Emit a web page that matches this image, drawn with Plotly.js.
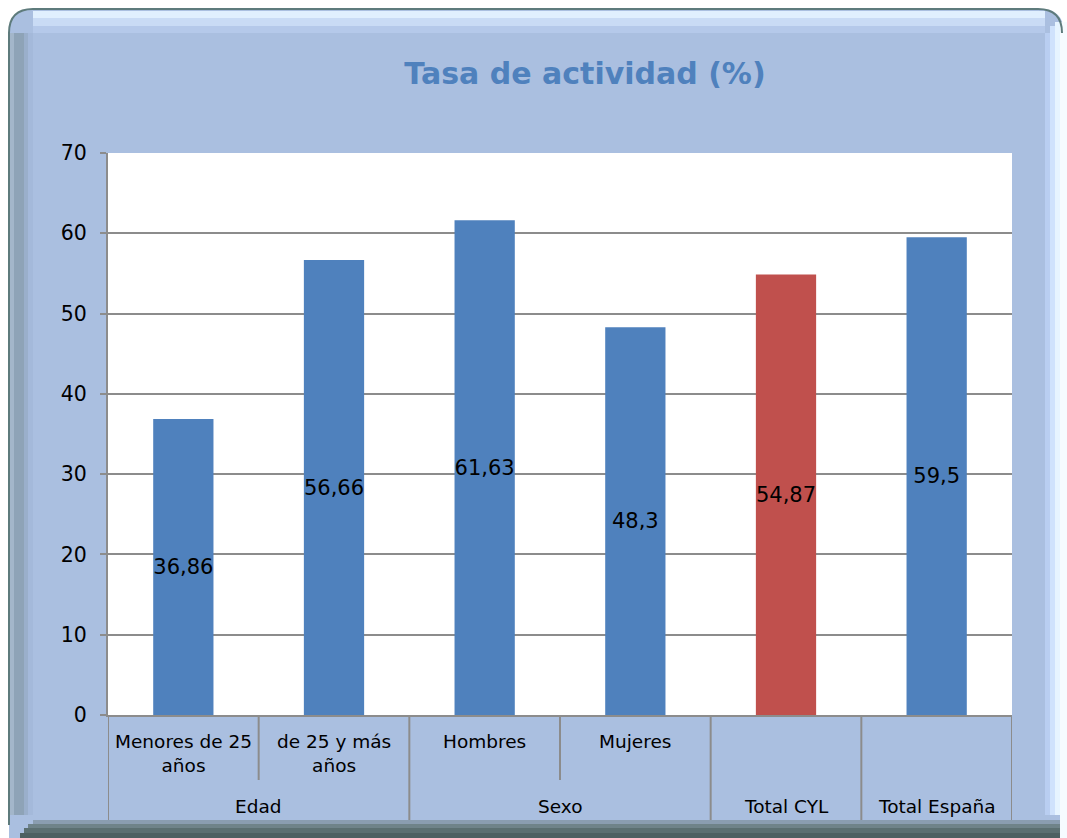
<!DOCTYPE html>
<html>
<head>
<meta charset="utf-8">
<script src="https://cdn.plot.ly/plotly-3.0.1.min.js"></script>
<style>html,body{margin:0;padding:0;background:#fff;}#chart{width:1067px;height:838px;}</style>
</head>
<body>
<div id="chart"></div>
<script>
// ---- data ----
const categories = ["Menores de 25 años", "de 25 y más años", "Hombres", "Mujeres", "Total CYL", "Total España"];
const subLabels = ["Menores de 25<br>años", "de 25 y más<br>años", "Hombres", "Mujeres", "", ""];
const groupLabels = ["Edad", "Sexo", "Total CYL", "Total España"];
const groupSizes = [2, 2, 1, 1];
const values = [36.86, 56.66, 61.63, 48.3, 54.87, 59.5];
const highlightCategory = "Total CYL";
const yTicks = [0, 10, 20, 30, 40, 50, 60, 70];

// ---- geometry helpers (layout only) ----
const W = 1067, H = 838, L = 108, R = 55, T = 153, B = 123;
const pw = W - L - R, ph = H - T - B;
const fx = px => (px - L) / pw;
const fy = py => (H - B - py) / ph;

const BLUE = "#4F81BD", RED = "#C0504D", GRID = "#8C8C8C";
const FONT = "DejaVu Sans";

const texts = values.map(v => String(v).replace(".", ","));
const colors = categories.map(c => c === highlightCategory ? RED : BLUE);

function roundRect(x0, y0, x1, y1, r) {
  const X0 = fx(x0), X1 = fx(x1), Y0 = fy(y0), Y1 = fy(y1);
  const rx = r / pw, ry = r / ph;
  return `M${X0 + rx},${Y0} L${X1 - rx},${Y0} Q${X1},${Y0} ${X1},${Y0 - ry} L${X1},${Y1 + ry} Q${X1},${Y1} ${X1 - rx},${Y1} L${X0 + rx},${Y1} Q${X0},${Y1} ${X0},${Y1 + ry} L${X0},${Y0 - ry} Q${X0},${Y0} ${X0 + rx},${Y0} Z`;
}
function topEdge(x0, y0, x1, r, drop) {
  const X0 = fx(x0), X1 = fx(x1), Y0 = fy(y0);
  const rx = r / pw, ry = r / ph;
  return `M${X0},${fy(drop)} L${X0},${Y0 - ry} Q${X0},${Y0} ${X0 + rx},${Y0} L${X1 - rx},${Y0} Q${X1},${Y0} ${X1},${Y0 - ry}`;
}
function pxRect(x0, y0, x1, y1, color) {
  return {type: "rect", xref: "paper", yref: "paper", layer: "below",
    x0: fx(x0), x1: fx(x1), y0: fy(y1), y1: fy(y0),
    fillcolor: color, line: {width: 0}};
}

const shapes = [
  {type: "path", xref: "paper", yref: "paper", layer: "below", path: roundRect(9, 9, 1064, 860, 24),
    fillcolor: "#AABFE0", line: {width: 0}},
  // left bevel
  pxRect(10, 33, 14, 815, "#A3B6CA"),
  pxRect(14, 33, 24, 815, "#8EA3B7"),
  pxRect(24, 33, 28, 815, "#9AAFCB"),
  pxRect(28, 33, 33, 815, "#A4B9DA"),
  // top bevel
  pxRect(33, 11, 1045, 18, "#E0EFFE"),
  pxRect(33, 18, 1045, 26, "#C9DBF5"),
  pxRect(33, 26, 1045, 33, "#B5C9EA"),
  // right bevel
  pxRect(1045, 33, 1050, 815, "#B9CEF1"),
  pxRect(1050, 26, 1055, 815, "#CFE2FC"),
  pxRect(1055, 22, 1060, 815, "#E6F4FF"),
  pxRect(1060, 22, 1067, 838, "#F6FBFF"),
  // bottom bevel
  pxRect(33, 820, 1060, 824, "#8A9DB0"),
  pxRect(28, 824, 1060, 828, "#6F8389"),
  pxRect(24, 828, 1060, 833, "#5B6F71"),
  pxRect(20, 833, 1060, 838, "#4D6061"),
  // outer edge (top and left)
  {type: "path", xref: "paper", yref: "paper", layer: "below", path: topEdge(9, 9, 1062, 24, 825),
    line: {color: "#5E7B7C", width: 2}},
  // plot area
  {type: "rect", xref: "paper", yref: "paper", layer: "below", x0: 0, x1: 1, y0: 0, y1: 1,
    fillcolor: "#FFFFFF", line: {width: 0}}
];

// category separators and labels
const sepLineStyle = {color: GRID, width: 2};
let idx = 0;
const annotations = [];
groupSizes.forEach((n, g) => {
  shapes.push({type: "line", xref: "x", yref: "paper", x0: idx - 0.5, x1: idx - 0.5, y0: 0, y1: fy(820), line: sepLineStyle});
  for (let k = 1; k < n; k++) {
    shapes.push({type: "line", xref: "x", yref: "paper", x0: idx + k - 0.5, x1: idx + k - 0.5, y0: 0, y1: fy(780), line: sepLineStyle});
  }
  annotations.push({xref: "x", yref: "paper", x: idx + (n - 1) / 2, y: fy(806), text: groupLabels[g],
    showarrow: false, xanchor: "center", yanchor: "middle",
    font: {family: FONT, size: 18.5, color: "#000"}});
  idx += n;
});
shapes.push({type: "line", xref: "x", yref: "paper", x0: idx - 0.5, x1: idx - 0.5, y0: 0, y1: fy(820), line: sepLineStyle});

subLabels.forEach((s, i) => {
  if (!s) return;
  annotations.push({xref: "x", yref: "paper", x: i, y: fy(729), text: s,
    showarrow: false, xanchor: "center", yanchor: "top",
    font: {family: FONT, size: 18.5, color: "#000"}});
});

const trace = {
  type: "bar", x: categories, y: values, text: texts,
  textposition: "inside", insidetextanchor: "middle", constraintext: "none", textangle: 0,
  insidetextfont: {family: FONT, size: 21, color: "#000"},
  marker: {color: colors, line: {width: 0}},
  width: 0.4, hoverinfo: "none"
};

const layout = {
  width: W, height: H,
  margin: {l: L, r: R, t: T, b: B, pad: 0},
  paper_bgcolor: "#FFFFFF", plot_bgcolor: "rgba(0,0,0,0)",
  showlegend: false,
  title: {text: "Tasa de actividad (%)", x: 585 / W, xanchor: "center", y: 1 - 73 / H, yanchor: "middle",
    font: {family: FONT, size: 30, color: BLUE, weight: "bold"}},
  xaxis: {type: "category", showticklabels: false, ticks: "", showgrid: false, zeroline: false,
    showline: true, linecolor: GRID, linewidth: 2, range: [-0.5, 5.5], fixedrange: true},
  yaxis: {range: [0, 70], tickvals: yTicks, ticks: "outside", ticklen: 6, tickcolor: GRID, tickwidth: 2,
    showgrid: true, gridcolor: GRID, gridwidth: 2, zeroline: false, showline: true, linecolor: GRID, linewidth: 2,
    tickfont: {family: FONT, size: 20.5, color: "#000"}, ticklabelstandoff: 9, fixedrange: true},
  shapes: shapes,
  annotations: annotations
};

Plotly.newPlot("chart", [trace], layout, {displayModeBar: false, staticPlot: true});
</script>
</body>
</html>
